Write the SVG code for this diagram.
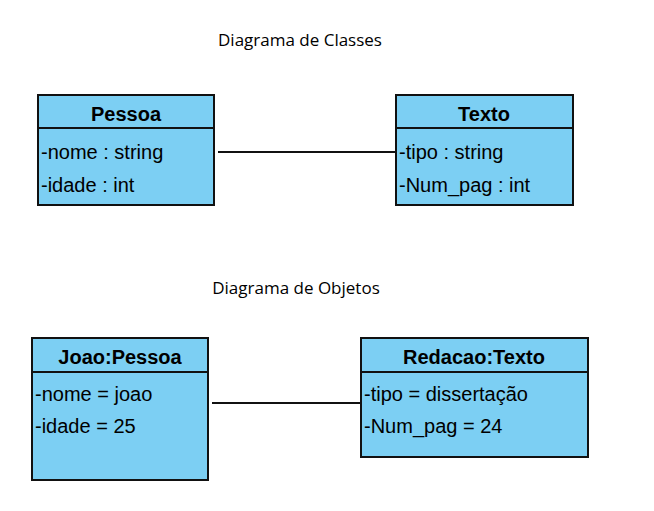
<svg xmlns="http://www.w3.org/2000/svg" width="654" height="511" viewBox="0 0 654 511">
<style>
.b{fill:#7ccff3;stroke:#111;stroke-width:2}
.l{stroke:#111;stroke-width:2}
.h{font-family:"Liberation Sans",Arial,sans-serif;font-size:20px;font-weight:bold;fill:#000;text-anchor:middle}
.t{font-family:"Liberation Sans",Arial,sans-serif;font-size:20px;fill:#000}
.c{font-family:"Open Sans","Noto Sans",sans-serif;font-size:17px;fill:#000;text-anchor:middle}
</style>
<rect width="654" height="511" fill="#fff"/>
<text class="c" x="300" y="46">Diagrama de Classes</text>
<text class="c" x="296" y="294">Diagrama de Objetos</text>
<g id="connectors">
<line class="l" x1="218" y1="152" x2="396" y2="152"/>
<line class="l" x1="212" y1="403" x2="361" y2="403"/>
</g>
<g id="pessoa">
<rect class="b" x="38" y="95" width="176" height="110"/>
<line class="l" x1="38" y1="128" x2="214" y2="128"/>
<text class="h" x="126" y="121">Pessoa</text>
<text class="t" x="41" y="159">-nome : string</text>
<text class="t" x="41" y="192">-idade : int</text>
</g>
<g id="texto">
<rect class="b" x="396" y="95" width="177" height="110"/>
<line class="l" x1="396" y1="128" x2="573" y2="128"/>
<text class="h" x="484" y="121">Texto</text>
<text class="t" x="399" y="159">-tipo : string</text>
<text class="t" x="399" y="192">-Num_pag : int</text>
</g>
<g id="joao">
<rect class="b" x="32" y="338" width="176" height="142"/>
<line class="l" x1="32" y1="372" x2="208" y2="372"/>
<text class="h" x="120" y="364">Joao:Pessoa</text>
<text class="t" x="35" y="401">-nome = joao</text>
<text class="t" x="35" y="433">-idade = 25</text>
</g>
<g id="redacao">
<rect class="b" x="361" y="338" width="227" height="119"/>
<line class="l" x1="361" y1="372" x2="588" y2="372"/>
<text class="h" x="474" y="364">Redacao:Texto</text>
<text class="t" x="364" y="401">-tipo = dissertação</text>
<text class="t" x="364" y="433">-Num_pag = 24</text>
</g>
</svg>
